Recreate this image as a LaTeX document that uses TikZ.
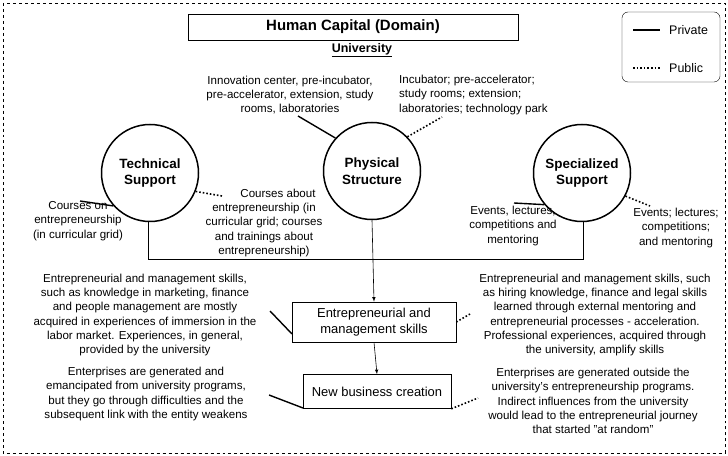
\documentclass[tikz,border=0pt]{standalone}
\usepackage{fontspec}
\setmainfont{Liberation Sans}
\begin{document}
\begin{tikzpicture}[x=1bp,y=-1bp,
 txt/.style={font=\fontsize{11.6}{14.4}\selectfont,align=center,inner sep=0pt},
 txtl/.style={txt,align=left},
 circ/.style={draw,line width=1.5pt,circle,minimum size=97bp,inner sep=0pt,font=\bfseries\fontsize{13.5}{16.5}\selectfont,align=center},
 box/.style={draw,semithick,inner sep=0pt,font=\fontsize{13}{16.5}\selectfont,align=center},
 priv/.style={line width=1.4pt},
 pub/.style={line width=1.6pt,dotted},
 conn/.style={semithick}]
\useasboundingbox (0,0) rectangle (728,456);
\draw[dashed] (3,3) rectangle (725,453);
\node[box,minimum width=330bp,minimum height=26bp,font=\bfseries\fontsize{15}{18}\selectfont] (title) at (353,27) {Human Capital (Domain)};
\node[font=\bfseries\fontsize{12.5}{14}\selectfont,inner sep=0pt] (uni) at (362,50) {\underline{University}};
\draw[rounded corners=6bp] (622,12) rectangle (720,82);
\coordinate (l1) at (633,30); \coordinate (l2) at (660,30);
\coordinate (l3) at (633,68); \coordinate (l4) at (660,68);
\draw[priv] (l1)--(l2); \draw[pub] (l3)--(l4);
\node[txt,anchor=west,font=\fontsize{12.5}{14}\selectfont] (lp) at (669,30) {Private};
\node[txt,anchor=west,font=\fontsize{12.5}{14}\selectfont] (lq) at (669,68) {Public};

\node[circ] (tech) at (150,173) {Technical\\Support};
\node[circ] (phys) at (372,171) {Physical\\Structure};
\node[circ] (spec) at (582,173) {Specialized\\Support};

\node[txt] (ptl) at (290,95) {Innovation center, pre-incubator,\\pre-accelerator, extension, study\\rooms, laboratories};
\node[txtl,anchor=west] (ptr) at (399,95) {Incubator; pre-accelerator;\\study rooms; extension;\\laboratories; technology park};
\coordinate (a1) at (298,116); \coordinate (a3) at (442,117);
\draw[priv] (a1)--(phys.138);
\draw[pub] (phys.44)--(a3);

\node[txt] (tl) at (78,221) {Courses on\\entrepreneurship\\(in curricular grid)};
\node[txt] (tr) at (264,223) {\hspace*{28bp}Courses about\\entrepreneurship (in\\curricular grid; courses\\and trainings about\\entrepreneurship)};
\coordinate (b1) at (80,201); \coordinate (b2) at (222,196);
\draw[priv] (b1)--(tech.222);
\draw[pub] (tech.-22)--(b2);

\node[txt] (sl) at (513,226) {Events, lectures,\\competitions and\\mentoring};
\node[txt] (sr) at (676,228) {Events; lectures;\\competitions;\\and mentoring};
\coordinate (c1) at (514,203); \coordinate (c2) at (650,206);
\draw[priv] (c1)--(spec.220);
\draw[pub] (spec.-28)--(c2);

\node[box,minimum width=164bp,minimum height=40bp] (ems) at (374,322) {Entrepreneurial and\\management skills};
\node[box,minimum width=148bp,minimum height=34bp] (nbc) at (377,391.5) {New business creation};

\coordinate (h1) at (148,259); \coordinate (h2) at (583,259);
\draw[conn] (tech.south-|h1)--(h1)--(h2)--(spec.south-|h2);
\draw[conn,-latex] (phys.south)--(ems.north);
\draw[conn,-latex] (ems.south)--(nbc.north);

\node[txt] (eml) at (145,315) {Entrepreneurial and management skills,\\such as knowledge in marketing, finance\\and people management are mostly\\acquired in experiences of immersion in the\\labor market. Experiences, in general,\\provided by the university};
\node[txt] (emr) at (595,315) {Entrepreneurial and management skills, such\\as hiring knowledge, finance and legal skills\\learned through external mentoring and\\entrepreneurial processes - acceleration.\\Professional experiences, acquired through\\the university, amplify skills};
\coordinate (d1) at (270,311); \coordinate (d3) at (292,334); \coordinate (d2) at (470,314);
\draw[priv] (d1)--(d3);
\draw[pub] (ems.east)--(d2);

\node[txt] (nl) at (146,394) {Enterprises are generated and\\emancipated from university programs,\\but they go through difficulties and the\\subsequent link with the entity weakens};
\node[txt] (nr) at (593,401) {Enterprises are generated outside the\\university's entrepreneurship programs.\\Indirect influences from the university\\would lead to the entrepreneurial journey\\that started "at random"};
\coordinate (e1) at (269,395); \coordinate (e3) at (303,408); \coordinate (e2) at (478,398);
\draw[priv] (e1)--(e3);
\draw[pub] (nbc.south east)--(e2);
\end{tikzpicture}
\end{document}
